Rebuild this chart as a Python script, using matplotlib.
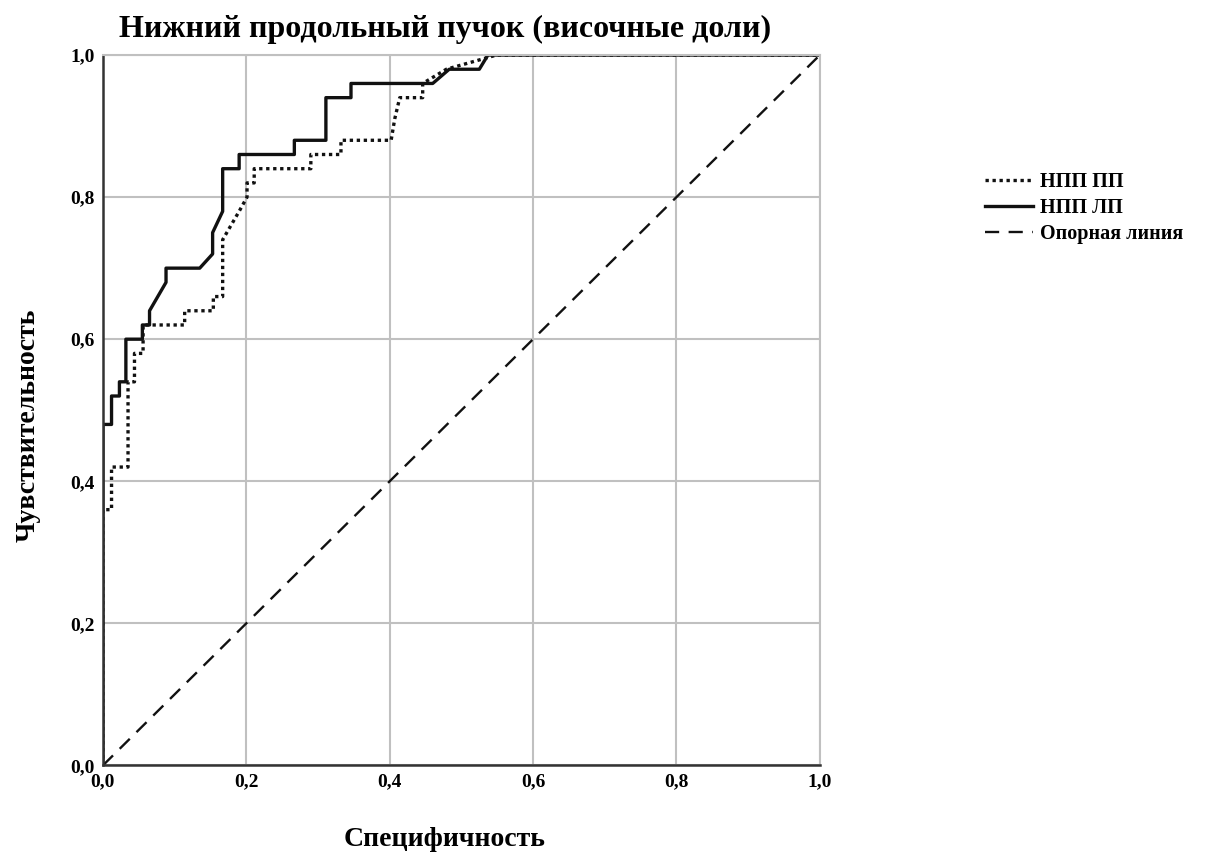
import matplotlib
matplotlib.use("Agg")
import matplotlib.pyplot as plt
from matplotlib.ticker import FuncFormatter

# ROC: НПП ЛП (сплошная)
lp_fpr = [0, 0, 0.012, 0.012, 0.023, 0.023, 0.032, 0.032, 0.055, 0.055, 0.065, 0.065,
          0.088, 0.088, 0.135, 0.153, 0.153, 0.167, 0.167, 0.19, 0.19, 0.267, 0.267,
          0.311, 0.311, 0.346, 0.346, 0.46, 0.483, 0.525, 0.537, 1.0]
lp_tpr = [0, 0.48, 0.48, 0.52, 0.52, 0.54, 0.54, 0.60, 0.60, 0.62, 0.62, 0.64,
          0.68, 0.70, 0.70, 0.72, 0.75, 0.78, 0.84, 0.84, 0.86, 0.86, 0.88,
          0.88, 0.94, 0.94, 0.96, 0.96, 0.98, 0.98, 1.0, 1.0]

# ROC: НПП ПП (пунктир)
pp_fpr = [0, 0, 0.012, 0.012, 0.035, 0.035, 0.044, 0.044, 0.056, 0.056, 0.114, 0.114,
          0.154, 0.154, 0.167, 0.167, 0.19, 0.201, 0.201, 0.211, 0.211, 0.29, 0.29,
          0.332, 0.332, 0.402, 0.407, 0.414, 0.446, 0.446, 0.479, 0.549, 1.0]
pp_tpr = [0, 0.36, 0.36, 0.42, 0.42, 0.54, 0.54, 0.58, 0.58, 0.62, 0.62, 0.64,
          0.64, 0.66, 0.66, 0.74, 0.78, 0.80, 0.82, 0.82, 0.84, 0.84, 0.86,
          0.86, 0.88, 0.88, 0.91, 0.94, 0.94, 0.96, 0.98, 1.0, 1.0]

ticks = [0, 0.2, 0.4, 0.6, 0.8, 1.0]

plt.rcParams['font.family'] = ['Liberation Serif', 'DejaVu Serif']
plt.rcParams['font.weight'] = 'bold'

fig = plt.figure(figsize=(12.11, 8.6), dpi=100)
ax = fig.add_axes([0.085, 0.110, 0.592, 0.826])

ax.plot(pp_fpr, pp_tpr, color='#111111', lw=2.4, ls=(0, (1, 1.1)), label='НПП ПП')
ax.plot(lp_fpr, lp_tpr, color='#111111', lw=2.4, label='НПП ЛП')
ax.plot([0, 1], [0, 1], color='#111111', lw=1.7, ls=(0, (6, 4)), label='Опорная линия')

ax.set_xlim(0, 1)
ax.set_ylim(0, 1)
ax.set_xticks(ticks)
ax.set_yticks(ticks)
fmt = FuncFormatter(lambda v, p: f"{v:.1f}".replace('.', ','))
ax.xaxis.set_major_formatter(fmt)
ax.yaxis.set_major_formatter(fmt)
ax.tick_params(length=0, labelsize=14, pad=6)
for lab in ax.get_xticklabels() + ax.get_yticklabels():
    lab.set_fontweight('bold')

ax.grid(True, color='#c0c0c0', lw=1.5)
ax.set_axisbelow(True)
for s in ['top', 'right']:
    ax.spines[s].set_color('#c0c0c0')
    ax.spines[s].set_linewidth(1.5)
for s in ['left', 'bottom']:
    ax.spines[s].set_color('#333333')
    ax.spines[s].set_linewidth(1.8)

# подписи вручную, чтобы не обрезались
fig.text(445 / 1211, 1 - 29 / 860, 'Нижний продольный пучок (височные доли)',
         fontsize=23, fontweight='bold', ha='center', va='center')
fig.text(445 / 1211, 1 - 840 / 860, 'Специфичность',
         fontsize=20, fontweight='bold', ha='center', va='center')
fig.text(28 / 1211, 1 - 425 / 860, 'Чувствительность',
         fontsize=20, fontweight='bold', ha='center', va='center', rotation=90)

leg = ax.legend(loc='upper left', bbox_to_anchor=(985 / 1211, 1 - 172 / 860),
                bbox_transform=fig.transFigure, borderpad=0, borderaxespad=0,
                frameon=False, handlelength=2.4, handletextpad=0.35,
                labelspacing=0.3, prop={'weight': 'bold', 'size': 14.5})

fig.savefig('out.png', dpi=100)
